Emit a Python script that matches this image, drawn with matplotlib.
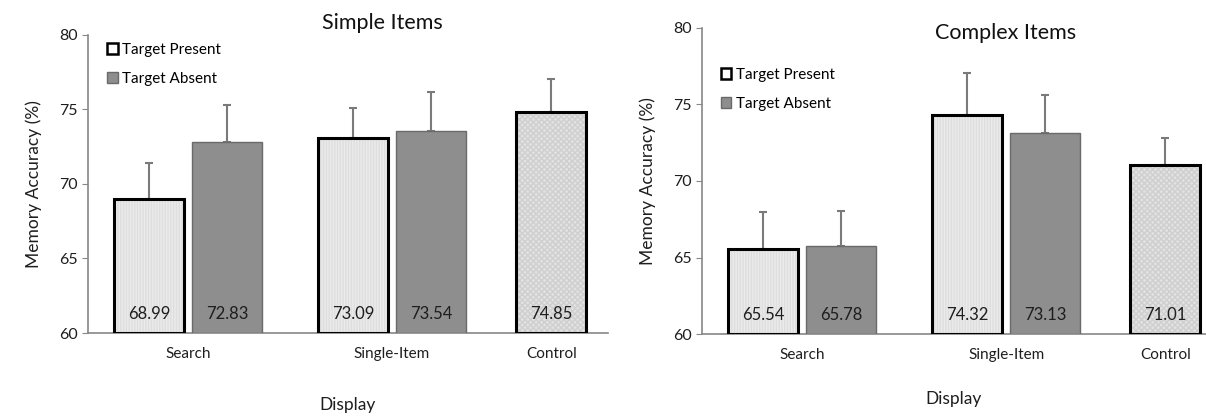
import matplotlib.pyplot as plt
from matplotlib.patches import Patch

plt.rcParams['font.family'] = ['Lato', 'DejaVu Sans']

# data
groups = ["Search", "Single-Item", "Control"]
simple_present = [68.99, 73.09]
simple_absent = [72.83, 73.54]
simple_control = 74.85
simple_present_err = [2.4, 2.0]
simple_absent_err = [2.45, 2.65]
simple_control_err = 2.2

complex_present = [65.54, 74.32]
complex_absent = [65.78, 73.13]
complex_control = 71.01
complex_present_err = [2.43, 2.74]
complex_absent_err = [2.26, 2.5]
complex_control_err = 1.8

# layout (bar width = 1)
group_pos = [1.43, 4.345, 6.62]
off = 0.555
w = 1.0

light = '#ebebeb'
dark = '#8e8e8e'
err_col = '#7a7a7a'
txt = '#1e1e1e'


def draw_panel(ax, title, present, absent, control, p_err, a_err, c_err,
               xmax, leg_y, title_x, title_y, xlab_pad):
    tp_x = [group_pos[0] - off, group_pos[1] - off]
    ta_x = [group_pos[0] + off, group_pos[1] + off]
    # textured fills
    ax.bar(tp_x, [v - 60 for v in present], bottom=60, width=w, color=light,
           hatch='||||||', edgecolor='#dedede', linewidth=0, zorder=2)
    ax.bar(tp_x, [v - 60 for v in present], bottom=60, width=w, fill=False,
           edgecolor='black', linewidth=2.2, zorder=3)
    ax.bar(ta_x, [v - 60 for v in absent], bottom=60, width=w, color=dark,
           edgecolor='#6a6a6a', linewidth=1.0, zorder=3)
    ax.bar([group_pos[2]], [control - 60], bottom=60, width=w, color='#e2e2e2',
           hatch='xxxxxx', edgecolor='#cfcfcf', linewidth=0, zorder=2)
    ax.bar([group_pos[2]], [control - 60], bottom=60, width=w, fill=False,
           edgecolor='black', linewidth=2.2, zorder=3)

    xs = tp_x + ta_x + [group_pos[2]]
    ys = present + absent + [control]
    es = p_err + a_err + [c_err]
    ax.errorbar(xs, ys, yerr=[[0] * len(es), es], fmt='none', ecolor=err_col,
                elinewidth=1.5, capsize=3, capthick=1.5, zorder=1)
    for x, y in zip(xs, ys):
        ax.text(x, 61.25, f"{y:.2f}", ha='center', va='center', fontsize=12,
                color=txt, zorder=4)

    ax.set_xlim(0, xmax)
    ax.set_ylim(60, 80)
    ax.set_yticks([60, 65, 70, 75, 80])
    ax.set_xticks(group_pos)
    ax.set_xticklabels(groups)
    ax.tick_params(axis='x', length=0, pad=10, labelsize=11, colors=txt)
    ax.tick_params(axis='y', length=4, color='#888888', labelsize=11.5, colors=txt)
    for s in ['top', 'right']:
        ax.spines[s].set_visible(False)
    for s in ['left', 'bottom']:
        ax.spines[s].set_color('#888888')
        ax.spines[s].set_linewidth(1.2)
    ax.set_ylabel("Memory Accuracy (%)", fontsize=12.5, color=txt, labelpad=12)
    ax.set_xlabel("Display", fontsize=12.5, color=txt, labelpad=xlab_pad)
    ax.text(title_x, title_y, title, transform=ax.transAxes, ha='center', va='center',
            fontsize=15.5, color='#111111')

    handles = [Patch(facecolor='white', edgecolor='black', linewidth=1.8, label='Target Present'),
               Patch(facecolor=dark, edgecolor='#6a6a6a', linewidth=1, label='Target Absent')]
    ax.legend(handles=handles, loc='upper left', bbox_to_anchor=(0.025, leg_y), frameon=False,
              handlelength=0.7, handleheight=0.7, handletextpad=0.3, labelspacing=1.0,
              fontsize=11, borderaxespad=0)


fig = plt.figure(figsize=(12.06, 4.16), dpi=100)
ax1 = fig.add_axes([0.073, 0.1995, 0.431, 0.7165])
ax2 = fig.add_axes([0.582, 0.197, 0.418, 0.736])

draw_panel(ax1, "Simple Items", simple_present, simple_absent, simple_control,
           simple_present_err, simple_absent_err, simple_control_err,
           7.43, 0.995, 0.567, 1.04, 26)
draw_panel(ax2, "Complex Items", complex_present, complex_absent, complex_control,
           complex_present_err, complex_absent_err, complex_control_err,
           7.2, 0.89, 0.603, 0.984, 21)

fig.savefig("out.png", dpi=100)
